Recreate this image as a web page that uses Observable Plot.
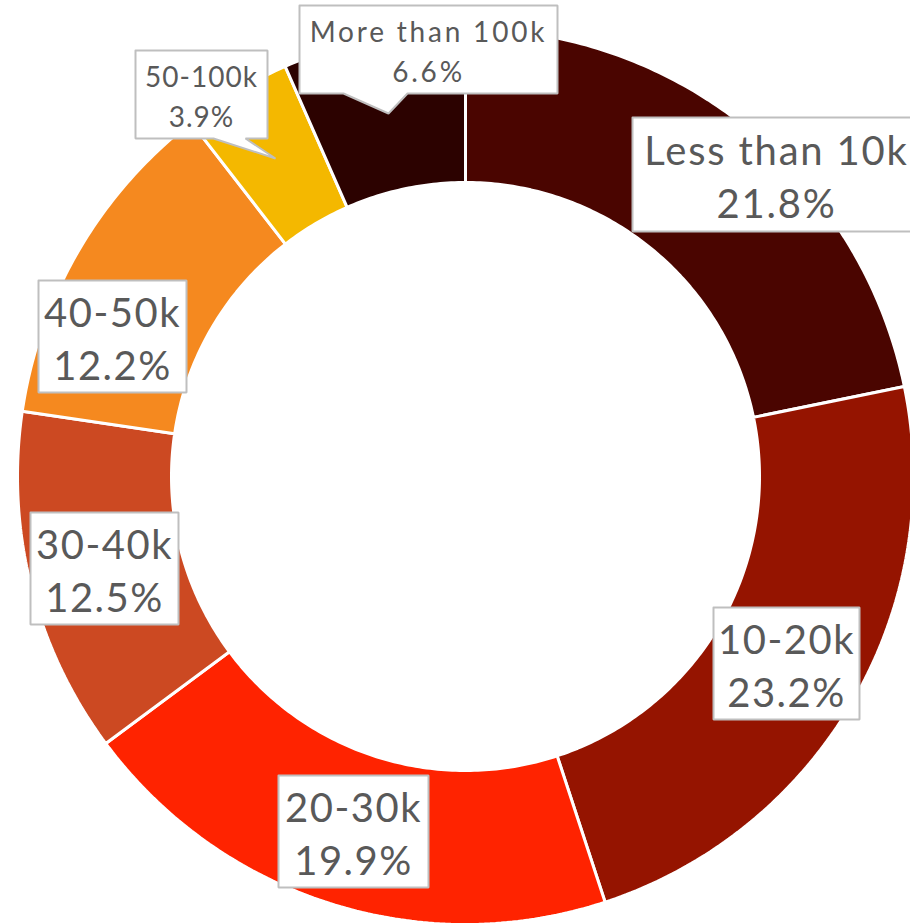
<!DOCTYPE html>
<html>
<head>
<meta charset="utf-8">
<script src="https://cdn.jsdelivr.net/npm/d3@7"></script>
<script src="https://cdn.jsdelivr.net/npm/@observablehq/plot@0.6"></script>
<style>
  html, body { margin: 0; padding: 0; background: #fff; }
  #chart { width: 910px; height: 924px; overflow: hidden; }
</style>
</head>
<body>
<div id="chart"></div>
<script>
// ---- data ----
const categories = ["Less than 10k", "10-20k", "20-30k", "30-40k", "40-50k", "50-100k", "More than 100k"];
const shares = [21.8, 23.2, 19.9, 12.5, 12.2, 3.9, 6.6];
const sliceColors = ["#4a0500", "#951400", "#ff2300", "#cc4922", "#f5891f", "#f4b800", "#2c0200"];

// ---- layout (pixels) ----
const W = 910, H = 924;
const cx = 465, cy = 476, R = 448, r0 = 294;
// label boxes: center, half sizes, font size, letter spacing, optional callout tail
const labelLayout = [
  {cx: 776, cy: 174, hw: 144, hh: 57, size: 40, ls: 1.8},
  {cx: 786, cy: 663, hw: 73, hh: 56, size: 40, ls: 1.5},
  {cx: 353, cy: 831, hw: 75, hh: 56, size: 40, ls: 1.5},
  {cx: 104, cy: 568, hw: 74, hh: 56, size: 40, ls: 1.5},
  {cx: 112, cy: 336, hw: 74, hh: 56, size: 40, ls: 1.5},
  {cx: 201, cy: 94, hw: 66, hh: 44, size: 28, ls: 1, tail: [[213, 138], [275, 158], [245, 138]]},
  {cx: 428, cy: 49, hw: 129, hh: 44, size: 28, ls: 2.8, tail: [[343, 93], [388, 113], [407, 93]]}
];

const total = d3.sum(shares);
const slices = [];
let acc = 0;
categories.forEach((c, i) => {
  const a0 = acc / total * 2 * Math.PI;
  acc += shares[i];
  const a1 = acc / total * 2 * Math.PI;
  const n = Math.max(8, Math.ceil((a1 - a0) * 80));
  const pts = [];
  for (let k = 0; k <= n; k++) {
    const a = a0 + (a1 - a0) * k / n;
    pts.push({x: cx + R * Math.sin(a), y: cy - R * Math.cos(a)});
  }
  for (let k = n; k >= 0; k--) {
    const a = a0 + (a1 - a0) * k / n;
    pts.push({x: cx + r0 * Math.sin(a), y: cy - r0 * Math.cos(a)});
  }
  pts.push(pts[0]);
  pts.forEach(p => slices.push({...p, cat: c}));
});

// label box polygons
const boxes = [];
labelLayout.forEach((L, i) => {
  const x1 = L.cx - L.hw, x2 = L.cx + L.hw, y1 = L.cy - L.hh, y2 = L.cy + L.hh;
  const pts = [[x1, y1], [x2, y1], [x2, y2]];
  if (L.tail) {
    const left = L.tail[0], tip = L.tail[1], right = L.tail[2];
    pts.push(right, tip, left);
  }
  pts.push([x1, y2], [x1, y1]);
  pts.forEach(p => boxes.push({x: p[0], y: p[1], cat: categories[i]}));
});

const labels = categories.map((c, i) => ({
  x: labelLayout[i].cx,
  y: labelLayout[i].cy,
  text: c + "\n" + shares[i].toFixed(1) + "%",
  size: labelLayout[i].size
}));

const chart = Plot.plot({
  width: W,
  height: H,
  margin: 0,
  style: {background: "#fff", fontFamily: "Lato, 'Noto Sans', sans-serif"},
  x: {domain: [0, W], range: [0, W], axis: null},
  y: {domain: [0, H], range: [0, H], axis: null},
  color: {domain: categories, range: sliceColors},
  marks: [
    Plot.line(slices, {x: "x", y: "y", z: "cat", fill: "cat", stroke: "#fff", strokeWidth: 3, curve: "linear", strokeLinejoin: "miter"}),
    Plot.line(boxes, {x: "x", y: "y", z: "cat", fill: "#fff", stroke: "#bfbfbf", strokeWidth: 2, curve: "linear", strokeLinejoin: "miter"}),
    Plot.text(labels.filter(d => d.size === 40), {x: "x", y: "y", text: "text", fontSize: 40, fontWeight: 400, lineHeight: 1.32, fill: "#595959", textAnchor: "middle", lineAnchor: "middle"}),
    Plot.text(labels.filter(d => d.size !== 40), {x: "x", y: "y", text: "text", fontSize: 28, fontWeight: 400, lineHeight: 1.42, fill: "#595959", textAnchor: "middle", lineAnchor: "middle"})
  ]
});

// per-label letter spacing to approximate the wide geometric face of the original
chart.querySelectorAll("text").forEach(t => {
  const first = t.querySelector("tspan");
  const s = first ? first.textContent : t.textContent;
  const i = categories.indexOf(s);
  if (i >= 0) t.setAttribute("letter-spacing", labelLayout[i].ls + "px");
});
document.getElementById("chart").appendChild(chart);
</script>
</body>
</html>
